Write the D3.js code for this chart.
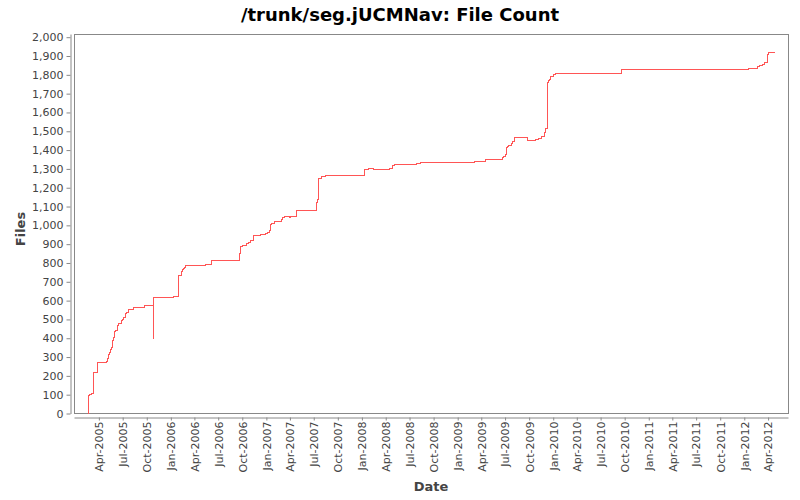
<!DOCTYPE html>
<html>
<head>
<meta charset="utf-8">
<script src="https://cdn.jsdelivr.net/npm/d3@7"></script>
<style>
  body { margin: 0; background: #fff; }
  svg { display: block; }
</style>
</head>
<body>
<svg id="chart" width="800" height="500"></svg>
<script>
const titleText = "/trunk/seg.jUCMNav: File Count";
const xLabel = "Date";
const yLabel = "Files";

const dates = [
  "2005-02-19","2005-02-20","2005-02-26","2005-03-05","2005-03-13","2005-03-26",
  "2005-04-30","2005-05-04","2005-05-08","2005-05-11","2005-05-15","2005-05-19",
  "2005-05-23","2005-05-27","2005-05-31","2005-06-03","2005-06-11","2005-06-15",
  "2005-06-25","2005-06-30","2005-07-04","2005-07-10","2005-07-15","2005-07-25",
  "2005-08-13","2005-09-21","2005-10-25","2005-10-26","2006-01-10","2006-01-29",
  "2006-02-09","2006-02-13","2006-02-17","2006-02-21","2006-02-27","2006-05-12",
  "2006-06-04","2006-09-19","2006-09-23","2006-09-26","2006-09-30","2006-10-09",
  "2006-10-17","2006-10-25","2006-11-01","2006-11-09","2006-11-13","2006-12-08",
  "2006-12-30","2007-01-05","2007-01-13","2007-01-17","2007-01-21","2007-01-31",
  "2007-02-26","2007-03-04","2007-03-10","2007-03-29","2007-04-03","2007-04-25",
  "2007-07-12","2007-07-14","2007-07-18","2007-07-29","2007-08-15","2008-01-10",
  "2008-01-25","2008-02-13","2008-04-14","2008-04-26","2008-05-03","2008-07-27",
  "2008-08-10","2009-03-05","2009-04-16","2009-06-20","2009-06-24","2009-07-02",
  "2009-07-05","2009-07-09","2009-07-13","2009-07-24","2009-07-28","2009-08-05",
  "2009-09-24","2009-10-26","2009-11-05","2009-11-18","2009-11-28","2009-12-03",
  "2009-12-09","2009-12-13","2009-12-17","2009-12-20","2010-01-02","2010-01-09",
  "2010-09-18","2012-01-18","2012-02-21","2012-03-01","2012-03-10","2012-03-17",
  "2012-03-29","2012-04-02","2012-04-26"
];
const fileCounts = [
  0, 96, 101, 108, 216, 270,
  278, 291, 314, 324, 340, 353,
  388, 406, 436, 441, 468, 477,
  495, 500, 509, 534, 537, 551,
  562, 574, 400, 615, 620, 732,
  757, 766, 771, 778, 785, 791,
  812, 849, 871, 885, 892, 895,
  902, 910, 917, 920, 945, 950,
  955, 964, 970, 1004, 1012, 1020,
  1030, 1043, 1046, 1040, 1046, 1078,
  1124, 1137, 1248, 1259, 1266, 1296,
  1303, 1296, 1301, 1319, 1324, 1330,
  1335, 1338, 1349, 1360, 1367, 1378,
  1413, 1420, 1427, 1434, 1445, 1468,
  1452, 1455, 1463, 1473, 1493, 1514,
  1757, 1768, 1777, 1791, 1801, 1806,
  1828, 1833, 1842, 1849, 1856, 1863,
  1906, 1918, 1918
];
const xDomain = ["2004-12-27", "2012-06-16"];
const yDomain = [0, 2017];
const yTicks = d3.range(0, 2001, 100);
const xTickStart = "2005-04-01";
const xTickEnd = "2012-05-01";

const parse = d3.timeParse("%Y-%m-%d");
const data = dates.map((d, i) => ({ date: parse(d), value: fileCounts[i] }));

const svg = d3.select("#chart");
const plot = { left: 74, right: 788, top: 34, bottom: 413.5 };

const x = d3.scaleTime().domain(xDomain.map(parse)).range([plot.left, plot.right]);
const y = d3.scaleLinear().domain(yDomain).range([plot.bottom, plot.top]);

const axisColor = "#888888";
const textColor = "#444444";
const font = "'DejaVu Sans', sans-serif";

// title
svg.append("text")
  .attr("x", 400).attr("y", 21)
  .attr("text-anchor", "middle")
  .style("font-family", font).style("font-size", "18px").style("font-weight", "bold")
  .attr("fill", "#000")
  .text(titleText);

// plot background and border
svg.append("rect")
  .attr("x", plot.left + 0.5).attr("y", plot.top + 0.5)
  .attr("width", plot.right - plot.left).attr("height", plot.bottom - plot.top - 0.5)
  .attr("fill", "#fff").attr("stroke", axisColor).attr("stroke-width", 1);

// y axis
const yAxis = d3.axisLeft(y).tickValues(yTicks).tickFormat(d3.format(",")).tickSize(4).tickSizeOuter(0).tickPadding(3);
const gy = svg.append("g").attr("transform", "translate(70.5,0)").call(yAxis);
gy.select(".domain").attr("stroke", axisColor);
gy.selectAll(".tick line").attr("stroke", axisColor);
gy.selectAll(".tick text").attr("fill", textColor).style("font-family", font).style("font-size", "11px");

// x axis
const xTickValues = d3.timeMonth.every(3).range(parse(xTickStart), parse(xTickEnd));
const xAxis = d3.axisBottom(x).tickValues(xTickValues).tickFormat(d3.timeFormat("%b-%Y")).tickSize(3).tickSizeOuter(0);
const gx = svg.append("g").attr("transform", "translate(0,417.5)").call(xAxis);
gx.select(".domain").attr("stroke", axisColor);
gx.selectAll(".tick line").attr("stroke", axisColor);
gx.selectAll(".tick text")
  .attr("fill", textColor).style("font-family", font).style("font-size", "11px")
  .attr("y", 0).attr("x", -4).attr("dy", "0.35em")
  .attr("transform", "rotate(-90)")
  .style("text-anchor", "end");

// axis labels
svg.append("text")
  .attr("x", (plot.left + plot.right) / 2).attr("y", 491)
  .attr("text-anchor", "middle")
  .style("font-family", font).style("font-size", "13px").style("font-weight", "bold")
  .attr("fill", textColor).text(xLabel);
svg.append("text")
  .attr("transform", "translate(25,229) rotate(-90)")
  .attr("text-anchor", "middle")
  .style("font-family", font).style("font-size", "13px").style("font-weight", "bold")
  .attr("fill", textColor).text(yLabel);

// line
const line = d3.line().x(d => x(d.date)).y(d => y(d.value)).curve(d3.curveStepAfter);
svg.append("path")
  .datum(data)
  .attr("d", line)
  .attr("fill", "none")
  .attr("stroke", "#ff5555")
  .attr("stroke-width", 1)
  .attr("shape-rendering", "crispEdges");
</script>
</body>
</html>
